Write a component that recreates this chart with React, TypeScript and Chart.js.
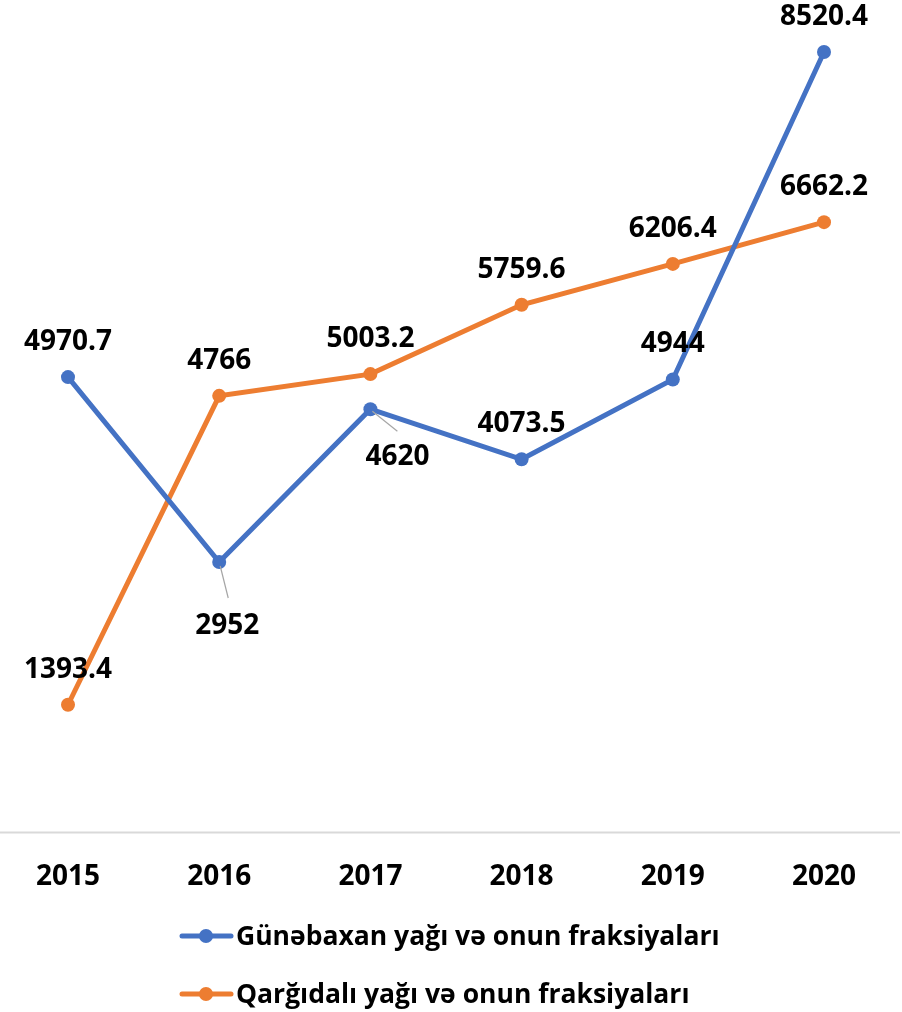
import React, { useEffect, useRef } from 'react';
import { Chart, registerables } from 'chart.js';

Chart.register(...registerables);

const years = ['2015', '2016', '2017', '2018', '2019', '2020'];
const sunflowerValues = [4970.7, 2952, 4620, 4073.5, 4944, 8520.4];
const cornValues = [1393.4, 4766, 5003.2, 5759.6, 6206.4, 6662.2];
const seriesNames = [
  'Günəbaxan yağı və onun fraksiyaları',
  'Qarğıdalı yağı və onun fraksiyaları',
];
const sunflowerLabelPlaces = ['above', 'below', 'belowRight', 'above', 'above', 'above'];
const cornLabelPlaces = ['above', 'above', 'above', 'above', 'above', 'above'];

const BLUE = '#4472C4';
const ORANGE = '#ED7D31';
const FONT = '"Open Sans", Lato, "DejaVu Sans", sans-serif';
const LABEL_SIZE = 28;

const baselinePlugin = {
  id: 'baseline',
  beforeDatasetsDraw(chart: any) {
    const { ctx } = chart;
    const y0 = chart.scales.y.getPixelForValue(0);
    ctx.save();
    ctx.strokeStyle = '#D9D9D9';
    ctx.lineWidth = 2;
    ctx.beginPath();
    ctx.moveTo(0, y0);
    ctx.lineTo(chart.width - 2, y0);
    ctx.stroke();
    ctx.restore();
  },
};

const pointLabelPlugin = {
  id: 'pointLabels',
  afterDatasetsDraw(chart: any) {
    const { ctx } = chart;
    const places = [sunflowerLabelPlaces, cornLabelPlaces];
    ctx.save();
    chart.data.datasets.forEach((ds: any, di: number) => {
      const meta = chart.getDatasetMeta(di);
      meta.data.forEach((pt: any, i: number) => {
        const x = pt.x;
        const y = pt.y;
        const place = places[di][i];
        let lx = x;
        let ly = y - 35;
        if (place === 'below') {
          lx = x + 8;
          ly = y + 64;
          ctx.strokeStyle = '#A6A6A6';
          ctx.lineWidth = 1.2;
          ctx.beginPath();
          ctx.moveTo(x + 1, y + 4);
          ctx.lineTo(x + 9, y + 36);
          ctx.stroke();
        } else if (place === 'belowRight') {
          lx = x + 27;
          ly = y + 48;
          ctx.strokeStyle = '#A6A6A6';
          ctx.lineWidth = 1.2;
          ctx.beginPath();
          ctx.moveTo(x + 2, y + 2);
          ctx.lineTo(x + 27, y + 22);
          ctx.stroke();
        }
        ctx.font = `bold ${LABEL_SIZE}px ${FONT}`;
        ctx.textAlign = 'center';
        ctx.textBaseline = 'middle';
        ctx.fillStyle = '#000000';
        ctx.fillText(String(ds.data[i]), lx, ly);
      });
    });
    ctx.restore();
  },
};

const legendPlugin = {
  id: 'customLegend',
  afterDraw(chart: any) {
    const { ctx } = chart;
    const rows = [chart.height - 76, chart.height - 18];
    const colors = [BLUE, ORANGE];
    ctx.save();
    seriesNames.forEach((name, i) => {
      const y = rows[i];
      ctx.strokeStyle = colors[i];
      ctx.lineWidth = 5;
      ctx.lineCap = 'round';
      ctx.beginPath();
      ctx.moveTo(182, y);
      ctx.lineTo(231, y);
      ctx.stroke();
      ctx.fillStyle = colors[i];
      ctx.beginPath();
      ctx.arc(206, y, 7, 0, Math.PI * 2);
      ctx.fill();
      ctx.font = `bold 26.5px ${FONT}`;
      ctx.textAlign = 'left';
      ctx.textBaseline = 'middle';
      ctx.fillStyle = '#000000';
      ctx.fillText(name, 236, y + 1);
    });
    ctx.restore();
  },
};

export default function App() {
  const canvasRef = useRef<HTMLCanvasElement | null>(null);

  useEffect(() => {
    document.body.style.margin = '0';
    const canvas = canvasRef.current;
    if (!canvas) return;
    const chart = new Chart(canvas, {
      type: 'line',
      data: {
        labels: years,
        datasets: [
          {
            label: seriesNames[0],
            data: sunflowerValues,
            borderColor: BLUE,
            backgroundColor: BLUE,
            borderWidth: 5,
            pointRadius: 7,
            pointBorderWidth: 0,
            pointBackgroundColor: BLUE,
            tension: 0,
          },
          {
            label: seriesNames[1],
            data: cornValues,
            borderColor: ORANGE,
            backgroundColor: ORANGE,
            borderWidth: 5,
            pointRadius: 7,
            pointBorderWidth: 0,
            pointBackgroundColor: ORANGE,
            tension: 0,
          },
        ],
      },
      options: {
        animation: false,
        responsive: true,
        maintainAspectRatio: false,
        layout: { padding: { left: 68, right: 78, top: 8, bottom: 90 } },
        plugins: {
          legend: { display: false },
          tooltip: { enabled: false },
        },
        scales: {
          x: {
            offset: false,
            grid: { display: false, drawTicks: false },
            border: { display: false },
            ticks: {
              padding: 28,
              color: '#000000',
              font: { family: FONT, size: LABEL_SIZE, weight: 'bold' },
              maxRotation: 0,
              autoSkip: false,
            },
          },
          y: {
            display: false,
            min: 0,
            max: 9000,
          },
        },
      },
      plugins: [baselinePlugin, pointLabelPlugin, legendPlugin],
    });
    return () => chart.destroy();
  }, []);

  return (
    <div style={{ width: '902px', height: '1012px', position: 'relative' }}>
      <canvas ref={canvasRef} />
    </div>
  );
}
